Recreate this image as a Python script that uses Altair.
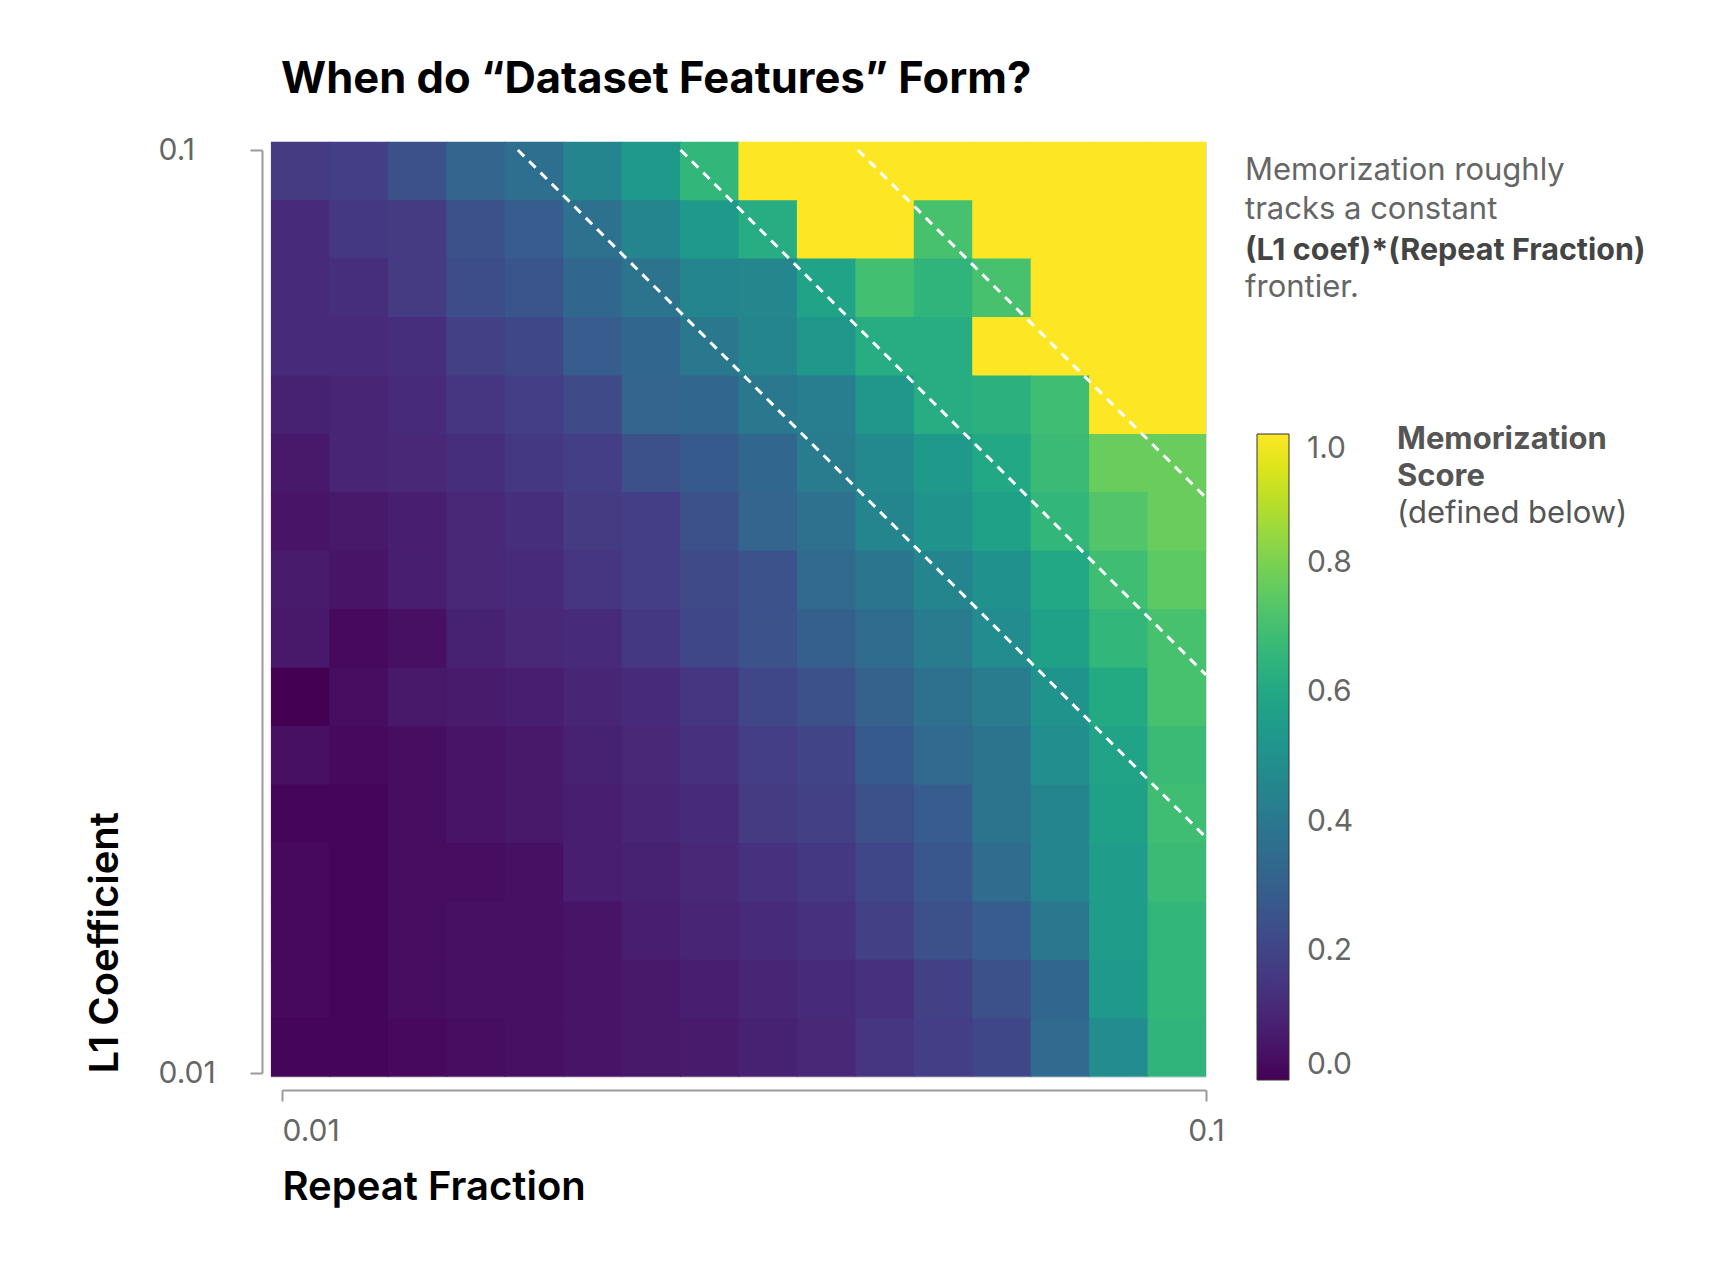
import altair as alt
import pandas as pd
import numpy as np

# ---------------- data ----------------
repeat_fraction_ticks = [0.01, 0.1]
l1_ticks = [0.01, 0.1]
score_ticks = [0.0, 0.2, 0.4, 0.6, 0.8, 1.0]

# Memorization score; rows go from L1 coef = 0.1 (top) down to 0.01 (bottom),
# columns go from repeat fraction 0.01 (left) to 0.1 (right)
scores = [
    [0.17, 0.18, 0.24, 0.32, 0.36, 0.45, 0.54, 0.66, 1.00, 1.00, 1.00, 1.00, 1.00, 1.00, 1.00, 1.00],
    [0.12, 0.16, 0.17, 0.24, 0.29, 0.37, 0.45, 0.54, 0.62, 1.00, 1.00, 0.71, 1.00, 1.00, 1.00, 1.00],
    [0.12, 0.13, 0.17, 0.23, 0.26, 0.33, 0.38, 0.45, 0.46, 0.58, 0.70, 0.65, 0.71, 1.00, 1.00, 1.00],
    [0.12, 0.12, 0.13, 0.19, 0.21, 0.29, 0.33, 0.40, 0.45, 0.53, 0.62, 0.62, 1.00, 1.00, 1.00, 1.00],
    [0.09, 0.10, 0.12, 0.15, 0.18, 0.22, 0.32, 0.33, 0.40, 0.42, 0.53, 0.62, 0.64, 0.69, 1.00, 1.00],
    [0.06, 0.10, 0.11, 0.13, 0.16, 0.18, 0.24, 0.28, 0.33, 0.41, 0.47, 0.54, 0.60, 0.68, 0.77, 0.77],
    [0.05, 0.06, 0.08, 0.11, 0.13, 0.17, 0.18, 0.24, 0.32, 0.37, 0.45, 0.51, 0.57, 0.66, 0.73, 0.77],
    [0.07, 0.05, 0.08, 0.11, 0.12, 0.15, 0.18, 0.22, 0.25, 0.34, 0.39, 0.45, 0.50, 0.60, 0.69, 0.75],
    [0.06, 0.02, 0.04, 0.09, 0.11, 0.12, 0.16, 0.21, 0.25, 0.30, 0.35, 0.41, 0.48, 0.57, 0.66, 0.71],
    [0.00, 0.03, 0.06, 0.07, 0.08, 0.10, 0.12, 0.15, 0.21, 0.24, 0.31, 0.37, 0.41, 0.51, 0.61, 0.71],
    [0.04, 0.02, 0.03, 0.05, 0.06, 0.09, 0.11, 0.14, 0.18, 0.20, 0.28, 0.34, 0.38, 0.49, 0.58, 0.68],
    [0.01, 0.01, 0.03, 0.05, 0.06, 0.08, 0.10, 0.12, 0.17, 0.19, 0.24, 0.29, 0.38, 0.45, 0.57, 0.69],
    [0.02, 0.01, 0.03, 0.03, 0.04, 0.08, 0.09, 0.11, 0.14, 0.16, 0.21, 0.27, 0.35, 0.45, 0.55, 0.68],
    [0.02, 0.01, 0.03, 0.04, 0.04, 0.05, 0.08, 0.10, 0.12, 0.14, 0.19, 0.24, 0.29, 0.40, 0.55, 0.66],
    [0.02, 0.01, 0.03, 0.04, 0.04, 0.05, 0.06, 0.08, 0.10, 0.12, 0.14, 0.19, 0.24, 0.33, 0.54, 0.66],
    [0.01, 0.01, 0.02, 0.03, 0.04, 0.05, 0.06, 0.07, 0.09, 0.11, 0.15, 0.18, 0.21, 0.34, 0.48, 0.65],
]

# constant (L1 coef)*(Repeat Fraction) frontiers drawn as dashed lines
frontier_products = [0.0018, 0.0027, 0.0042]

# extent of the heatmap grid (log10 of repeat fraction / L1 coef)
grid_rf_log = (-2.012, -1.0)
grid_l1_log = (-2.004, -0.991)
SEAM = 0.0012  # tiny overlap (in decades) so neighbouring cells show no hairline seams

# ---------------- build tables ----------------
n_rows = len(scores)
n_cols = len(scores[0])
rf_log_edges = np.linspace(grid_rf_log[0], grid_rf_log[1], n_cols + 1)
l1_log_edges = np.linspace(grid_l1_log[1], grid_l1_log[0], n_rows + 1)  # top -> bottom

cells = []
for i in range(n_rows):
    for j in range(n_cols):
        right = rf_log_edges[j + 1] + (SEAM if j < n_cols - 1 else 0.0)
        bottom = l1_log_edges[i + 1] - (SEAM if i < n_rows - 1 else 0.0)
        cells.append({
            "rf0": 10 ** rf_log_edges[j], "rf1": 10 ** right,
            "l1a": 10 ** l1_log_edges[i], "l1b": 10 ** bottom,
            "score": scores[i][j],
        })
cells_df = pd.DataFrame(cells)

lines = []
for k, c in enumerate(frontier_products):
    lines.append({"line": k, "rf": c / 0.1, "l1": 0.1})
    lines.append({"line": k, "rf": 0.1, "l1": c / 0.1})
lines_df = pd.DataFrame(lines)

FONT = "Inter"
W, H = 935, 935

x_scale = alt.Scale(type="log", domain=[0.01, 0.1], range=[11, 935], nice=False)
y_scale = alt.Scale(type="log", domain=[0.01, 0.1], range=[931, 8], nice=False)

x_axis = alt.Axis(
    values=repeat_fraction_ticks, format="~g", orient="bottom", offset=13,
    domainColor="#9a9a9a", domainWidth=2, tickColor="#9a9a9a", tickWidth=2, tickSize=11,
    labelFontSize=30, labelColor="#666666", labelFont=FONT, labelPadding=15,
    labelAlign={"condition": {"test": "datum.value < 0.05", "value": "left"}, "value": "center"},
    title="Repeat Fraction", titleFontSize=40, titleFontWeight=600, titleFont=FONT,
    titleColor="#000000", titleAnchor="start", titleAlign="left", titlePadding=21, grid=False,
)
y_axis = alt.Axis(
    values=l1_ticks, format="~g", orient="left", offset=9,
    domainColor="#9a9a9a", domainWidth=2, tickColor="#9a9a9a", tickWidth=2, tickSize=12,
    labelFontSize=30, labelColor="#666666", labelFont=FONT, labelAlign="left",
    labelPadding=92, labelBaseline="middle",
    title="L1 Coefficient", titleFontSize=40, titleFontWeight=600, titleFont=FONT,
    titleColor="#000000", titleAnchor="start", titlePadding=33, grid=False,
)

heat = alt.Chart(cells_df).mark_rect().encode(
    x=alt.X("rf0:Q", scale=x_scale, axis=x_axis, title="Repeat Fraction"),
    x2="rf1:Q",
    y=alt.Y("l1a:Q", scale=y_scale, axis=y_axis, title="L1 Coefficient"),
    y2="l1b:Q",
    color=alt.Color(
        "score:Q",
        scale=alt.Scale(scheme="viridis", domain=[0, 1]),
        legend=alt.Legend(
            type="gradient", orient="none", legendX=986, legendY=292, direction="vertical",
            gradientLength=646, gradientThickness=32, title=None, values=score_ticks,
            format=".1f", labelFontSize=30, labelColor="#666666", labelFont=FONT,
            labelOffset=18, gradientStrokeColor="#333333", gradientStrokeWidth=1, padding=0,
        ),
    ),
)

frontiers = alt.Chart(lines_df).mark_line(
    color="white", strokeWidth=3, strokeDash=[9, 7], strokeCap="butt"
).encode(
    x=alt.X("rf:Q", scale=x_scale, axis=x_axis, title="Repeat Fraction"),
    y=alt.Y("l1:Q", scale=y_scale, axis=y_axis, title="L1 Coefficient"),
    detail="line:N",
)


def note(text, x, y, weight, color, size):
    return alt.Chart(pd.DataFrame({"t": [text]})).mark_text(
        align="left", baseline="alphabetic", font=FONT, fontSize=size,
        fontWeight=weight, color=color,
    ).encode(x=alt.value(x), y=alt.value(y), text="t:N")


notes = [
    note("Memorization roughly", 974, 38, 400, "#666666", 31),
    note("tracks a constant", 974, 77, 400, "#666666", 31),
    note("(L1 coef)*(Repeat Fraction)", 974, 118, 700, "#444444", 30.5),
    note("frontier.", 974, 155, 400, "#666666", 31),
    note("Memorization", 1126, 307, 700, "#555555", 31),
    note("Score", 1126, 344, 700, "#555555", 31),
    note("(defined below)", 1126, 381, 400, "#555555", 31),
]

chart = alt.layer(heat, frontiers, *notes).properties(
    width=W, height=H,
    title=alt.TitleParams(
        text="When do “Dataset Features” Form?", anchor="start", frame="group", dx=10,
        fontSize=43.5, fontWeight=700, font=FONT, color="#000000", offset=33,
    ),
    autosize=alt.AutoSizeParams(type="none"),
    padding={"left": 263, "top": 134, "right": 480, "bottom": 170},
).configure_view(stroke=None).configure(background="white")

chart.save("out.html", embed_options={"renderer": "svg", "actions": False})
